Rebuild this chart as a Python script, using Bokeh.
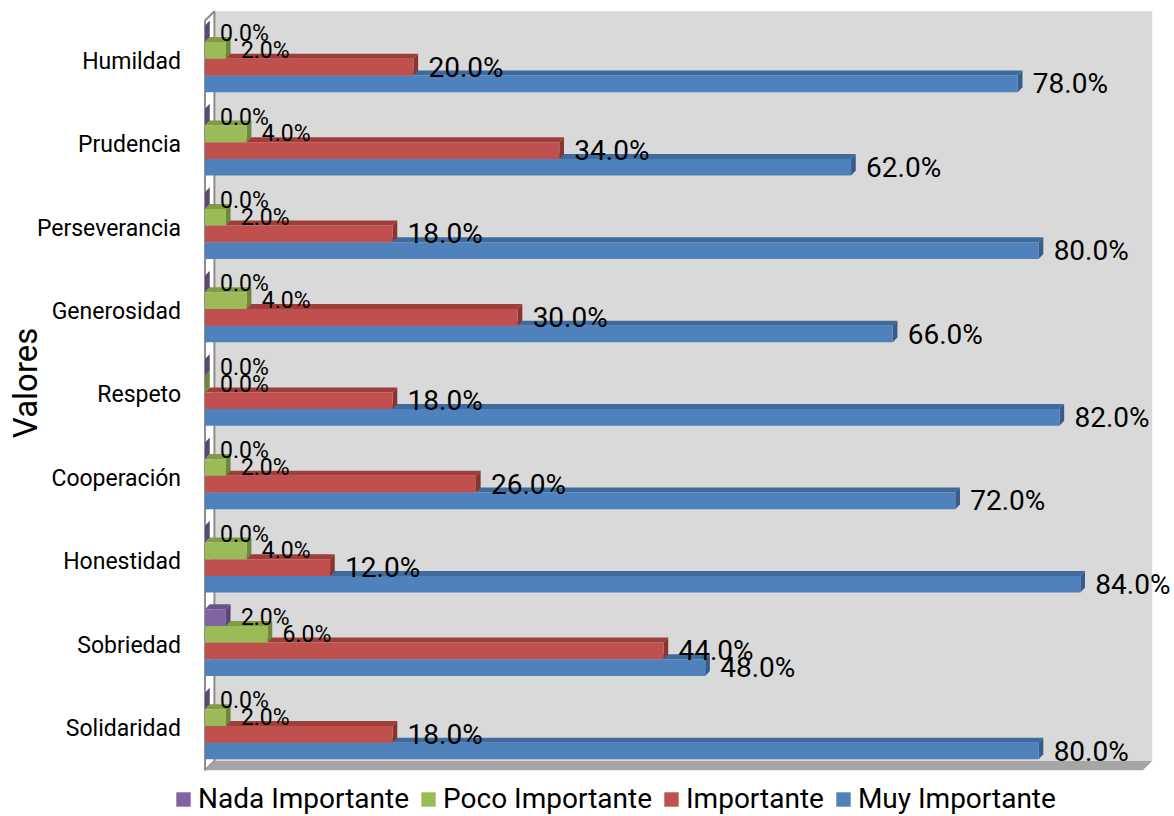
import math
from bokeh.plotting import figure
from bokeh.models import Range1d, Legend, LegendItem
from bokeh.embed import file_html
from bokeh.resources import INLINE
from bokeh.core.properties import value

# ---- data (bottom to top) ----
categories = ["Solidaridad", "Sobriedad", "Honestidad", "Cooperación", "Respeto",
              "Generosidad", "Perseverancia", "Prudencia", "Humildad"]
nada = [0, 2, 0, 0, 0, 0, 0, 0, 0]
poco = [2, 6, 4, 2, 0, 4, 2, 4, 2]
importante = [18, 44, 12, 26, 18, 30, 18, 34, 20]
muy = [80, 48, 84, 72, 82, 66, 80, 62, 78]
series_names = ["Nada Importante", "Poco Importante", "Importante", "Muy Importante"]
series_values = [nada, poco, importante, muy]
axis_title = "Valores"

# ---- styling ----
FONT = "Roboto"
front_colors = ["#8064A2", "#9BBB59", "#C0504D", "#4F81BD"]
top_colors = ["#6A5389", "#7F9C44", "#9E3E3B", "#3F6A9C"]
side_colors = ["#5B4676", "#6D8839", "#8A3431", "#365C8A"]
offsets = [0.30, 0.10, -0.10, -0.30]
label_sizes = ["23px", "23px", "28px", "28px"]

X_MAX = 90
BAR_H = 0.2
SHIFT = 0.03
DXB, DYB = 0.45, 0.06      # bar depth
DXW, DYW = 0.9, 0.11       # wall depth
Y_FLOOR = -0.5
Y_TOP = 8.6

p = figure(width=1174, height=815, output_backend="svg", toolbar_location=None,
           x_range=Range1d(-19.63, 93.04), y_range=Range1d(-1.043, 8.729),
           min_border=0)
p.background_fill_color = "white"
p.border_fill_color = "white"
p.outline_line_color = None
p.grid.visible = False
p.axis.visible = False

# back wall
p.quad(left=DXW, right=X_MAX + DXW, bottom=Y_FLOOR + DYW, top=Y_TOP,
       fill_color="#D9D9D9", line_color=None)
# left wall
p.patch(x=[0, DXW, DXW, 0], y=[Y_FLOOR, Y_FLOOR + DYW, Y_TOP, Y_TOP - DYW],
        fill_color="white", line_color="#8C8C8C", line_width=2)
# floor
p.patch(x=[0, X_MAX, X_MAX + DXW, DXW],
        y=[Y_FLOOR, Y_FLOOR, Y_FLOOR + DYW, Y_FLOOR + DYW],
        fill_color="#A6A6A6", line_color=None)

front_renderers = {}
for s in reversed(range(len(series_values))):
    vals = series_values[s]
    tx, ty, sx, sy, lefts, rights, bots, tops = [], [], [], [], [], [], [], []
    for i, v in enumerate(vals):
        yc = i + SHIFT + offsets[s]
        yb, yt = yc - BAR_H / 2, yc + BAR_H / 2
        tx.append([0, v, v + DXB, DXB])
        ty.append([yt, yt, yt + DYB, yt + DYB])
        sx.append([v, v + DXB, v + DXB, v])
        sy.append([yb, yb + DYB, yt + DYB, yt])
        lefts.append(0); rights.append(v); bots.append(yb); tops.append(yt)
    p.patches(xs=tx, ys=ty, fill_color=top_colors[s], line_color=None)
    p.patches(xs=sx, ys=sy, fill_color=side_colors[s], line_color=None)
    r = p.quad(left=lefts, right=rights, bottom=bots, top=tops,
               fill_color=front_colors[s], line_color=None)
    front_renderers[s] = r

# value labels
for s, vals in enumerate(series_values):
    ys = [i + SHIFT + offsets[s] for i in range(len(vals))]
    p.text(x=vals, y=ys, text=[f"{v:.1f}%" for v in vals], x_offset=15,
           text_align="left", text_baseline="middle",
           text_font=value(FONT), text_font_size=label_sizes[s], text_color="black")

# category labels (axis)
p.text(x=[0] * len(categories), y=list(range(len(categories))), text=categories,
       x_offset=-24, text_align="right", text_baseline="middle",
       text_font=value(FONT), text_font_size="23px", text_color="black")
# axis title
p.text(x=[0], y=[(len(categories) - 1) / 2], text=[axis_title], x_offset=-180,
       y_offset=-12, angle=math.pi / 2, text_align="center", text_baseline="middle",
       text_font=value(FONT), text_font_size="33px", text_color="black")

legend = Legend(items=[LegendItem(label=series_names[s], renderers=[front_renderers[s]])
                       for s in range(len(series_names))],
                orientation="horizontal", location=(174, 0),
                glyph_width=18, glyph_height=18, label_standoff=6, spacing=10,
                padding=0, margin=0, border_line_color=None,
                background_fill_alpha=0,
                label_text_font=FONT, label_text_font_size="28px",
                label_text_color="black")
p.add_layout(legend, "center")

open("out.html", "w").write(file_html(p, INLINE))
